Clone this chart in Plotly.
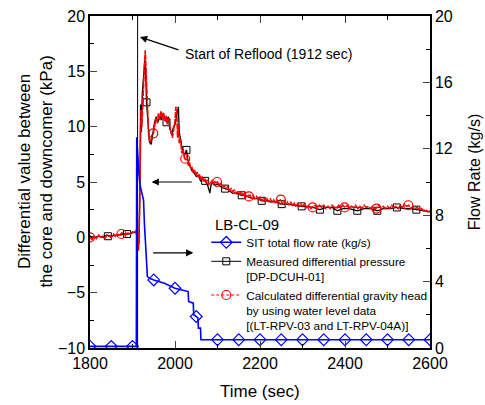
import plotly.graph_objects as go

# ---- Calculated differential gravity head (red) ----
red_t = [1800,1805,1810,1815,1820,1825,1830,1835,1840,1845,1850,1855,1860,1865,1870,1875,1880,1885,1890,1895,1900,1905,
         1908,1910,1912,1914,1916,1918,1920,1922,1924,1926,1928,1930,1932,1934,1936,1938,1940,1943,1946,1949,1952,1955,
         1958,1961,1964,1967,1970,1973,1976,1979,1982,1985,1988,1991,1994,1997,2000,2002,2004,2006,2008,2010,2013,2016,
         2019,2022,2025,2028,2031,2034,2037,2040,2043,2046,2049,2052,2055,2058,2061,2064,2067,2070,2073,2076,2079,2082,
         2085,2088,2091,2094,2097,2100,2104,2108,2112,2116,2120,2124,2128,2132,2136,2140,2144,2148,2152,2156,2160,2164,
         2168,2172,2176,2180,2184,2188,2192,2196,2200,2204,2208,2212,2216,2220,2224,2228,2232,2236,2240,2244,2248,2252,
         2256,2260,2264,2268,2272,2276,2280,2284,2288,2292,2296,2300,2305,2310,2315,2320,2325,2330,2335,2340,2345,2350,
         2355,2360,2365,2370,2375,2380,2385,2390,2395,2400,2405,2410,2415,2420,2425,2430,2435,2440,2445,2450,2455,2460,
         2465,2470,2475,2480,2485,2490,2495,2500,2505,2510,2515,2520,2525,2530,2535,2540,2545,2550,2555,2560,2565,2570,
         2575,2580,2585,2590,2595,2600]
red_v = [0.0,-0.2,0.1,-0.1,0.2,0.0,0.1,-0.1,0.2,0.1,0.0,0.3,0.1,0.3,0.2,0.4,0.2,0.3,0.4,0.3,0.5,0.4,
         0.6,0.2,-0.8,-1.2,1.0,5.0,11.5,10.0,12.5,14.0,15.5,16.9,14.5,12.0,10.5,9.2,8.8,8.6,9.3,9.4,10.0,10.8,
         10.3,11.2,10.6,11.4,10.7,11.3,10.5,11.0,10.2,10.8,10.0,9.6,9.0,9.8,10.5,11.8,11.6,9.0,10.2,8.5,8.9,7.6,
         8.0,7.2,7.0,7.3,6.5,6.8,6.2,6.3,5.9,6.1,5.6,5.9,5.4,5.7,5.2,5.5,5.0,5.3,4.9,5.2,4.7,5.0,
         4.9,5.2,4.8,5.1,4.9,5.0,4.7,4.9,4.5,4.7,4.3,4.6,4.2,4.4,4.1,4.3,3.9,4.2,3.9,4.1,3.8,4.0,
         3.7,3.7,3.9,3.5,3.8,3.5,3.7,3.4,3.6,3.3,3.6,3.3,3.5,3.2,3.5,3.2,3.4,3.1,3.4,3.1,3.4,3.1,
         3.3,3.0,3.2,2.9,3.2,2.9,3.1,2.8,3.1,2.8,3.0,2.8,3.0,2.7,2.9,2.6,2.8,2.9,2.6,2.9,2.7,2.9,
         2.6,2.8,2.6,2.9,2.7,2.6,2.9,2.7,2.9,2.7,2.9,2.6,2.8,2.7,2.9,2.6,2.8,2.6,2.9,2.7,2.8,2.6,
         2.8,2.5,2.7,2.9,2.6,2.8,2.6,2.8,2.6,2.9,2.7,2.8,2.6,2.9,2.7,3.0,2.8,2.9,2.6,2.8,2.6,2.7,
         2.5,2.6,2.4,2.5,2.3,2.4]
red_mark_t = [1800,1874,1949,2024,2099,2174,2249,2324,2399,2474,2549]
red_mark_v = [0.0,0.3,9.4,7.1,5.0,3.7,3.4,2.7,2.7,2.6,2.9]

# ---- Measured differential pressure (black) ----
blk_t = [1800,1810,1820,1830,1840,1850,1860,1870,1880,1890,1900,1908,1911,1913,1915,1917,1919,1921,1923,1925,1927,
         1929,1931,1933,1935,1937,1940,1944,1948,1952,1956,1960,1964,1968,1972,1976,1980,1984,1988,1992,1996,2000,
         2004,2008,2010,2014,2018,2022,2027,2032,2036,2040,2045,2050,2055,2060,2065,2071,2076,2080,2082,2085,2090,
         2095,2100,2110,2118,2125,2135,2145,2157,2165,2175,2185,2195,2204,2215,2225,2235,2251,2265,2280,2298,2310,
         2325,2341,2355,2370,2382,2395,2410,2429,2445,2460,2476,2490,2505,2522,2540,2555,2568,2585,2600]
blk_v = [0.1,0.0,0.1,0.0,0.2,0.1,0.2,0.2,0.3,0.3,0.4,0.5,0.0,-1.0,-0.5,3.0,12.0,9.5,13.0,14.5,15.0,
         16.0,15.0,12.2,11.0,9.5,8.6,8.4,9.6,10.4,10.9,10.4,11.0,10.6,11.2,10.7,10.4,10.9,9.8,9.3,9.9,10.2,
         11.2,11.8,9.5,8.6,7.8,7.4,7.9,6.6,6.4,6.0,5.8,5.5,5.6,5.1,5.3,5.1,4.8,4.3,4.0,4.8,4.9,
         4.7,4.8,4.5,4.4,4.3,4.0,4.0,3.8,3.8,3.6,3.5,3.5,3.3,3.3,3.2,3.2,3.0,3.0,2.9,2.8,2.8,
         2.7,2.5,2.7,2.7,2.4,2.6,2.6,2.4,2.6,2.6,2.4,2.6,2.6,2.7,2.6,2.6,2.5,2.4,2.3]
blk_mark_t = [1842,1887,1933,1980,2027,2071,2118,2157,2204,2251,2298,2341,2382,2429,2476,2522,2568]
blk_mark_v = [0.1,0.3,12.2,10.4,7.9,5.1,4.4,3.8,3.3,3.0,2.8,2.5,2.4,2.4,2.4,2.7,2.5]

# ---- SIT total flow rate (blue, right axis) ----
sit_t = [1800,1909,1910,1912,1915,1918,1922,1926,1928,1929,1932,1935,1940,1950,1975,2000,2031,2032,2043,2044,
         2050,2054,2055,2060,2061,2600]
sit_v = [0.1,0.1,12.7,11.5,10.5,9.8,9.3,8.9,7.5,6.9,5.3,4.3,4.2,4.1,3.9,3.6,3.4,2.8,2.7,2.0,
         1.9,1.8,1.2,1.2,0.5,0.5]
sit_mark_t = [1800,1850,1900,1950,2000,2050,2100,2150,2200,2250,2300,2350,2400,2450,2500,2550,2600]
sit_mark_v = [0.1,0.1,0.1,4.1,3.6,1.9,0.5,0.5,0.5,0.5,0.5,0.5,0.5,0.5,0.5,0.5,0.5]

reflood_t = 1912

FONT = "Arial, Liberation Sans, sans-serif"
fig = go.Figure()

# data traces
fig.add_trace(go.Scatter(x=sit_t, y=sit_v, yaxis="y2", mode="lines", line=dict(color="#0000FF", width=1.6),
                         showlegend=False, hoverinfo="skip"))
fig.add_trace(go.Scatter(x=sit_mark_t, y=sit_mark_v, yaxis="y2", mode="markers",
                         marker=dict(symbol="diamond-open", size=9, color="#0000FF", line=dict(width=1.2)),
                         showlegend=False))
fig.add_trace(go.Scatter(x=blk_t, y=blk_v, mode="lines", line=dict(color="black", width=1.3), showlegend=False))
fig.add_trace(go.Scatter(x=blk_mark_t, y=blk_mark_v, mode="markers",
                         marker=dict(symbol="square-open", size=7, color="black", line=dict(width=1)),
                         showlegend=False))
fig.add_trace(go.Scatter(x=red_t, y=red_v, mode="lines", line=dict(color="#FF0000", width=1.6, dash="6px,1px"),
                         showlegend=False))
fig.add_trace(go.Scatter(x=red_mark_t, y=red_mark_v, mode="markers",
                         marker=dict(symbol="circle-open", size=9, color="#FF0000", line=dict(width=1.2)),
                         showlegend=False))

# legend entries
fig.add_trace(go.Scatter(x=[None], y=[None], mode="lines+markers", name="SIT total flow rate (kg/s)",
                         line=dict(color="#0000FF", width=1.6),
                         marker=dict(symbol="diamond-open", size=9, color="#0000FF", line=dict(width=1.2))))
fig.add_trace(go.Scatter(x=[None], y=[None], mode="lines+markers", name="Measured differential pressure<br>[DP-DCUH-01]",
                         line=dict(color="black", width=1),
                         marker=dict(symbol="square-open", size=7, color="black", line=dict(width=1))))
fig.add_trace(go.Scatter(x=[None], y=[None], mode="lines+markers",
                         name="Calculated differential gravity head<br>by using water level data<br>[(LT-RPV-03 and LT-RPV-04A)]",
                         line=dict(color="#FF0000", width=1, dash="3px,2px"),
                         marker=dict(symbol="circle-open", size=9, color="#FF0000", line=dict(width=1.2))))

# reflood line
fig.add_shape(type="line", x0=reflood_t, x1=reflood_t, y0=-10, y1=20, xref="x", yref="y",
              line=dict(color="black", width=1))

# arrows
fig.add_annotation(x=1917.6, y=18.1, ax=2011.8, ay=16.9, axref="x", ayref="y", xref="x", yref="y",
                   text="", showarrow=True, arrowhead=2, arrowsize=1.2, arrowwidth=1.2, arrowcolor="black")
fig.add_annotation(x=2018, y=16.6, xref="x", yref="y", text="Start of Reflood (1912 sec)", showarrow=False,
                   xanchor="left", yanchor="middle", font=dict(family=FONT, size=14, color="black"))
fig.add_annotation(x=1945, y=5.0, ax=2043, ay=5.0, axref="x", ayref="y", xref="x", yref="y",
                   text="", showarrow=True, arrowhead=2, arrowsize=1.2, arrowwidth=1.2, arrowcolor="black")
fig.add_annotation(x=2043, y=-1.4, ax=1945, ay=-1.4, axref="x", ayref="y", xref="x", yref="y",
                   text="", showarrow=True, arrowhead=2, arrowsize=1.2, arrowwidth=1.2, arrowcolor="black")

# legend heading
fig.add_annotation(x=0.362, y=0.372, xref="paper", yref="paper", text="LB-CL-09", showarrow=False,
                   xanchor="left", yanchor="middle", font=dict(family=FONT, size=15, color="black"))

# axis titles
fig.add_annotation(x=-0.163, y=0.53, xref="paper", yref="paper",
                   text="Differential value between<br>the core and downcomer (kPa)", textangle=-90,
                   showarrow=False, xanchor="center", yanchor="middle",
                   font=dict(family=FONT, size=17, color="black"))
fig.add_annotation(x=1.13, y=0.53, xref="paper", yref="paper", text="Flow Rate (kg/s)", textangle=-90,
                   showarrow=False, xanchor="center", yanchor="middle",
                   font=dict(family=FONT, size=16, color="black"))
fig.add_annotation(x=0.5, y=-0.13, xref="paper", yref="paper", text="Time (sec)",
                   showarrow=False, xanchor="center", yanchor="middle",
                   font=dict(family=FONT, size=17, color="black"))

tickfont = dict(family=FONT, size=16, color="black")
fig.update_layout(
    width=485, height=405,
    margin=dict(l=90, r=55, t=16, b=57, autoexpand=False),
    paper_bgcolor="white", plot_bgcolor="white",
    font=dict(family=FONT, color="black"),
    xaxis=dict(range=[1800, 2600], dtick=200, tick0=1800, ticks="inside", ticklen=7, tickwidth=1.2,
               showline=True, linecolor="black", linewidth=1.5, mirror="ticks", showgrid=False, zeroline=False,
               minor=dict(dtick=100, ticks="inside", ticklen=4, tickcolor="black"),
               tickfont=tickfont, automargin=False),
    yaxis=dict(range=[-10, 20], dtick=5, ticks="inside", ticklen=7, tickwidth=1.2,
               showline=True, linecolor="black", linewidth=1.5, showgrid=False, zeroline=False,
               minor=dict(dtick=2.5, ticks="inside", ticklen=4, tickcolor="black"),
               tickfont=tickfont, automargin=False),
    yaxis2=dict(range=[0, 20], dtick=4, overlaying="y", side="right", ticks="inside", ticklen=7, tickwidth=1.2,
                showline=True, linecolor="black", linewidth=1.5, showgrid=False, zeroline=False,
                minor=dict(dtick=2, ticks="inside", ticklen=4, tickcolor="black"),
                tickfont=tickfont, automargin=False),
    legend=dict(x=0.342, y=0.361, xanchor="left", yanchor="top", bgcolor="rgba(0,0,0,0)",
                font=dict(family=FONT, size=11.8, color="black"), valign="top",
                itemwidth=30, tracegroupgap=0),
)

fig.write_html("out.html", config={"displayModeBar": False},
               post_script="document.body.style.margin='0px';document.body.style.padding='0px';")
